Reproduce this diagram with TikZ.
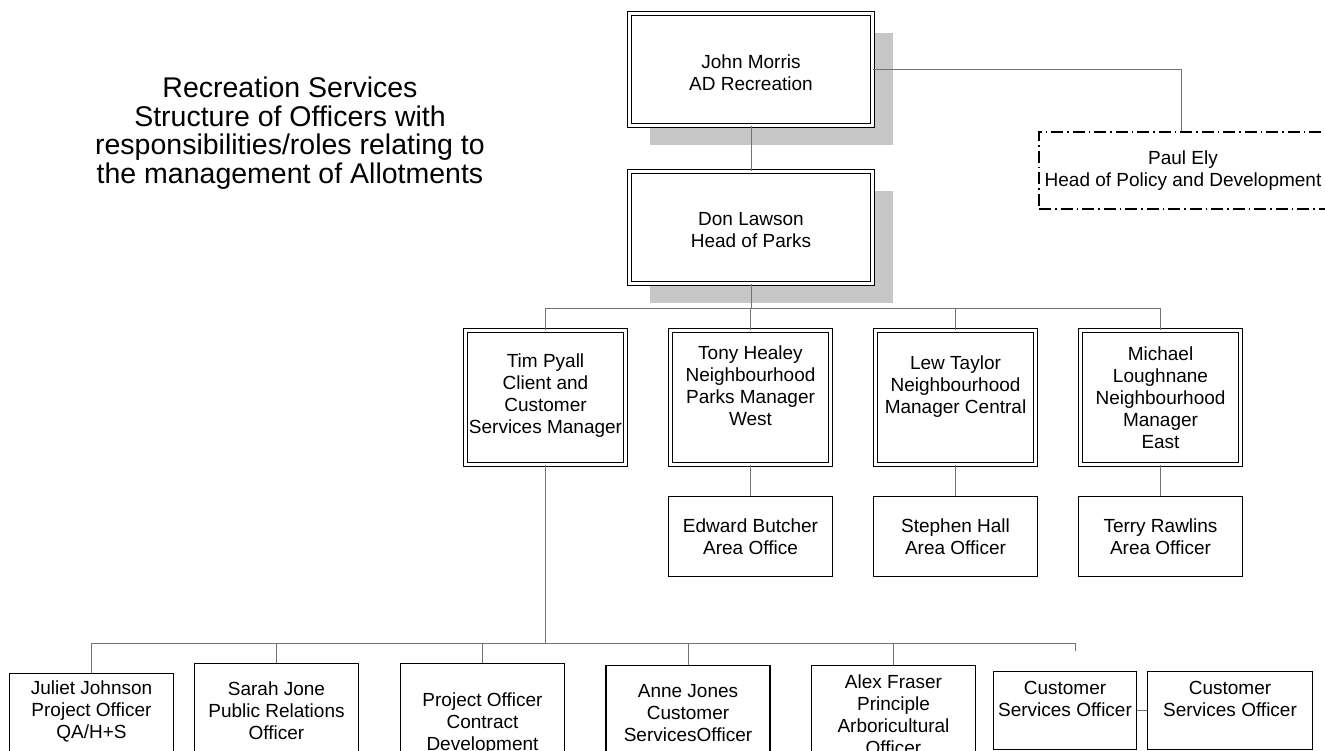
\documentclass[tikz,border=0pt]{standalone}
\usepackage{fontspec}
\setmainfont{Liberation Sans}
\usetikzlibrary{positioning,shadows}

\begin{document}
\begin{tikzpicture}[x=1pt, y=-1pt,
	basic/.style  = {draw, line width=1.2pt, fill=white, inner sep=0pt},
	head/.style   = {basic, double, double distance=2.4pt, line width=0.9pt, minimum width=243pt, minimum height=112pt,
	                 general shadow={fill=black!22, shadow xshift=20pt, shadow yshift=-20pt}},
	mgr/.style    = {basic, double, double distance=2.4pt, line width=0.9pt, minimum width=160pt, minimum height=134pt},
	area/.style   = {basic, minimum width=164pt, minimum height=80pt},
	staff/.style  = {basic, anchor=north, minimum width=164pt, minimum height=110pt},
	cso/.style    = {basic, minimum height=78pt},
	policy/.style = {draw, line width=1.1pt, dash pattern=on 12pt off 4pt on 1.5pt off 4pt, inner sep=0pt,
	                 minimum width=296pt, minimum height=77pt},
	txt/.style    = {font=\fontsize{19}{22}\selectfont, align=center, inner sep=0pt},
	title/.style  = {font=\fontsize{28.5}{28.5}\selectfont, align=center, inner sep=0pt},
	conn/.style   = {draw=black!55, line width=0.8pt}]

	\useasboundingbox (0,0) rectangle (1325,751);
	\clip (0,0) rectangle (1325,751);

	% heading on the left
	\node[title] (heading) at (290,133) {Recreation Services\\Structure of Officers with\\responsibilities/roles relating to\\the management of Allotments};

	% top of the structure
	\node[head] (john) at (751,69.5) {};
	\node[txt] (johntxt) at (751,72.5) {John Morris\\AD Recreation};
	\node[head] (don) at (751,227.5) {};
	\node[txt] (dontxt) at (751,230) {Don Lawson\\Head of Parks};
	\node[policy] (paul) at (1187,170.5) {};
	\node[txt] (paultxt) at (1183,171) {Paul Ely\\Head of Policy and Development};

	% managers, second level
	\begin{scope}[every node/.style={mgr}]
		\node (tim)  at (545.5,397.5) {};
		\node (tony) at (750.5,397.5) {};
		\node (lew)  at (955.5,397.5) {};
		\node (mike) at (1160.5,397.5) {};
	\end{scope}
	\node[txt] (timtxt)  at (545.5,396)   {Tim Pyall\\Client and\\Customer\\Services Manager};
	\node[txt] (tonytxt) at (750.5,385.5) {Tony Healey\\Neighbourhood\\Parks Manager\\West};
	\node[txt] (lewtxt)  at (955.5,386.5) {Lew Taylor\\Neighbourhood\\Manager Central};
	\node[txt] (miketxt) at (1160.5,397.5) {Michael\\Loughnane\\Neighbourhood\\Manager\\East};

	% area officers under the neighbourhood managers
	\begin{scope}[every node/.style={area}]
		\node (edward)  at (750.5,536.5) {};
		\node (stephen) at (955.5,536.5) {};
		\node (terry)   at (1160.5,536.5) {};
	\end{scope}
	\node[txt] (edwardtxt)  at (750.5,537)  {Edward Butcher\\Area Office};
	\node[txt] (stephentxt) at (955.5,537)  {Stephen Hall\\Area Officer};
	\node[txt] (terrytxt)   at (1160.5,537) {Terry Rawlins\\Area Officer};

	% officers under the client and customer services manager
	\begin{scope}[every node/.style={staff}]
		\node (juliet)  at (91.5,672.6) {};
		\node (sarah)   at (276.5,662.6) {};
		\node (projoff) at (482.5,662.6) {};
		\node (anne)    at (688,664.6) {};
		\node (alex)    at (893.5,664.6) {};
	\end{scope}
	\node[cso, minimum width=143pt] (cso1) at (1065,710.5) {};
	\node[cso, minimum width=165pt] (cso2) at (1230,710.5) {};
	\node[txt] (julietxt)   at (91.5,711)  {Juliet Johnson\\Project Officer\\QA/H+S};
	\node[txt] (sarahtxt)   at (276.5,711) {Sarah Jone\\Public Relations\\Officer};
	\node[txt] (projofftxt) at (482.5,724) {Project Officer\\Contract\\Development};
	\node[txt] (annetxt)    at (688,713)   {Anne Jones\\Customer\\ServicesOfficer};
	\node[txt] (alextxt)    at (893.5,715) {Alex Fraser\\Principle\\Arboricultural\\Officer};
	\node[txt] (cso1txt)    at (1065,699)  {Customer\\Services Officer};
	\node[txt] (cso2txt)    at (1230,699)  {Customer\\Services Officer};

	% connectors
	\coordinate (mbus) at (751,308);
	\coordinate (sbus) at (545.5,643);
	\coordinate (tick) at (1075,651);

	\draw[conn] (john.south) -- (don.north);
	\draw[conn] (john.east) -| ([xshift=-6pt]paul.north);
	\draw[conn] (don.south) -- (mbus);
	\foreach \m in {tim,tony,lew,mike}
	\draw[conn] (mbus) -| (\m.north);

	\foreach \m/\a in {tony/edward,lew/stephen,mike/terry}
	\draw[conn] (\m.south) -- (\a.north);

	\draw[conn] (tim.south) -- (sbus);
	\foreach \s in {juliet,sarah,projoff,anne,alex}
	\draw[conn] (sbus) -| (\s.north);
	\draw[conn] (sbus) -| (tick);
	\draw[conn] (cso1) -- (cso2);

\end{tikzpicture}
\end{document}
